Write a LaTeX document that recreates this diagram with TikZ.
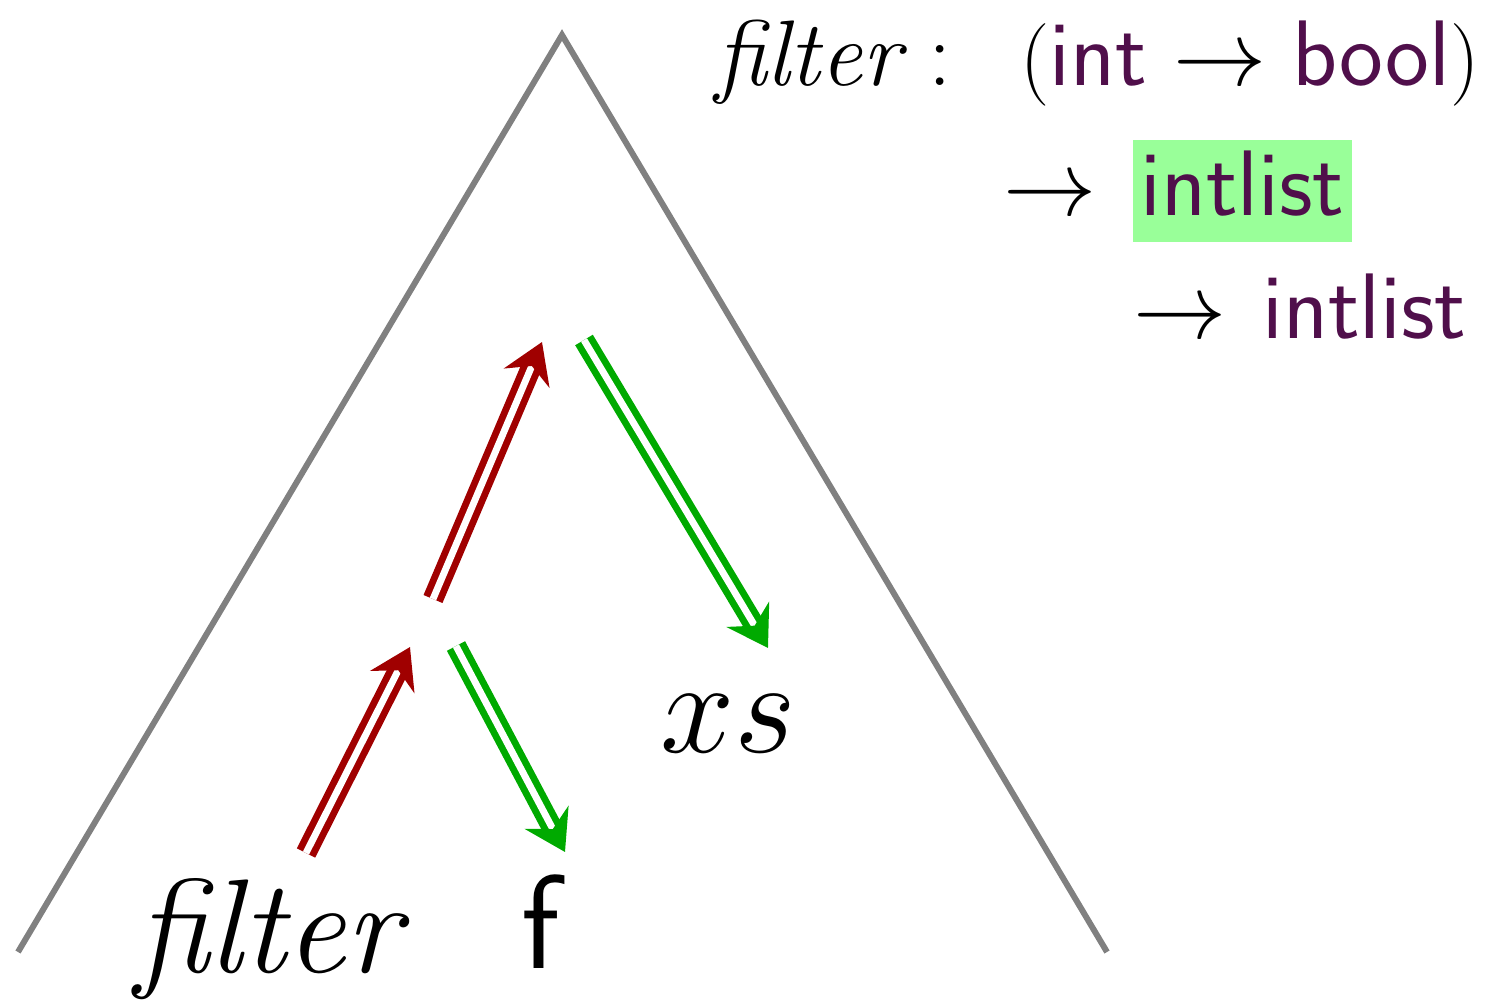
\RequirePackage{fix-cm}
\documentclass[tikz,border=0pt]{standalone}
\usepackage{xcolor}
\usetikzlibrary{arrows.meta, positioning}

\definecolor{treegray}{RGB}{128,128,128}
\definecolor{arrred}{RGB}{160,0,0}
\definecolor{arrgreen}{RGB}{0,170,0}
\definecolor{typecol}{RGB}{80,15,75}
\definecolor{hlgreen}{RGB}{153,255,153}

\newcommand{\tyname}[1]{\textcolor{typecol}{\textsf{#1}}}
\newcommand{\smallparen}[1]{{\fontsize{47}{47}\selectfont #1}}

\begin{document}
\begin{tikzpicture}[
  x=0.02cm, y=-0.02cm,
  tree/.style={draw=treegray, line width=3.4pt},
  flow/.style={double=white, draw=#1, line width=3.9pt, double distance=3.9pt,
    -{Stealth[length=0.78cm, width=0.98cm, inset=0.26cm]}},
  term/.style={font=\fontsize{76}{90}\selectfont, inner sep=0pt, anchor=base},
  sig/.style={font=\fontsize{53}{60}\selectfont, inner sep=0pt, anchor=base west},
  hlbox/.style={sig, fill=hlgreen, inner xsep=0.14cm, inner ysep=0.2cm,
    text height=1.3cm, text depth=0.34cm}
]
\useasboundingbox (0,0) rectangle (1489,1005);

% Tree outline
\coordinate (root) at (562,35);
\coordinate (leftfoot) at (18,952);
\coordinate (rightfoot) at (1107,952);
\draw[tree] (leftfoot) -- (root) -- (rightfoot);

% Leaves
\node[term] (fn) at (268,972) {\itshape filter};
\node[term] (argf) at (543,968) {\textsf{f}};
\node[term] (argxs) at (728,752) {$xs$};

% Arrow end points
\coordinate (fnout)  at (306,853);
\coordinate (app1in) at (410,647);
\coordinate (app1up) at (433,599);
\coordinate (app2in) at (542,342);
\coordinate (app1dn) at (456,646);
\coordinate (fin)    at (565,852);
\coordinate (app2dn) at (584,340);
\coordinate (xsin)   at (768,648);

% Types flowing up
\draw[flow=arrred] (fnout) -- (app1in);
\draw[flow=arrred] (app1up) -- (app2in);
% Types flowing down
\draw[flow=arrgreen] (app1dn) -- (fin);
\draw[flow=arrgreen] (app2dn) -- (xsin);

% Type signature
\node[sig] (signame) at (715,85) {\itshape filter\upshape\ :};
\node[sig, anchor=base east] (sigarg) at (1480,85)
  {\smallparen{(}$\textsf{\color{typecol}int}\to\textsf{\color{typecol}bool}$\smallparen{)}};
\node[sig] (to1) at (1003,215) {$\to$};
\node[hlbox] (res1) at (1133,215) {\tyname{intlist}};
\node[sig] (to2) at (1133,338) {$\to$};
\node[sig] (res2) at (1262,338) {\tyname{intlist}};

\end{tikzpicture}
\end{document}
